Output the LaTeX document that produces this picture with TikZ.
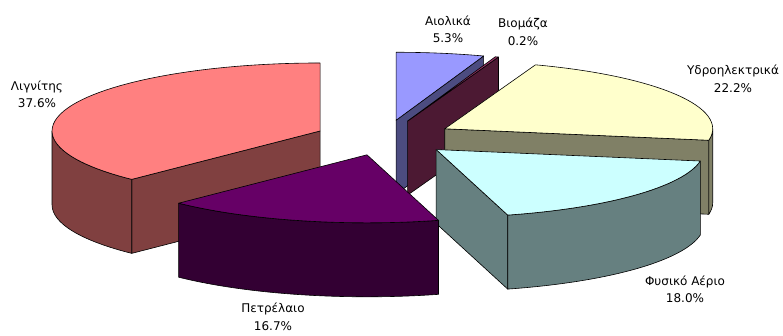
\documentclass[tikz,border=0pt]{standalone}
\usepackage{fontspec}
\setmainfont{DejaVu Sans}
\usetikzlibrary{calc}
\definecolor{ligTop}{HTML}{FF8080}
\definecolor{ligSide}{HTML}{804040}
\definecolor{petTop}{HTML}{660066}
\definecolor{petSide}{HTML}{330033}
\definecolor{gasTop}{HTML}{CCFFFF}
\definecolor{gasSide}{HTML}{668080}
\definecolor{hydTop}{HTML}{FFFFCC}
\definecolor{hydSide}{HTML}{808066}
\definecolor{winTop}{HTML}{9999FF}
\definecolor{winSide}{HTML}{4C4C80}
\definecolor{bioTop}{HTML}{993366}
\definecolor{bioSide}{HTML}{4C1933}
\def\pieA{268}
\def\pieB{68}
\def\pieH{74}
\def\pieE{0.26}
\newcommand\PieTop[4]{\filldraw[face,fill=#4] (#1) -- ++({\pieA*cos(#2)},{\pieB*sin(#2)}) arc[start angle=#2,end angle=#3,x radius=\pieA pt,y radius=\pieB pt] -- cycle;}
\newcommand\PieRim[4]{\filldraw[face,fill=#4] ($(#1)+({\pieA*cos(#2)},{\pieB*sin(#2)})$) arc[start angle=#2,end angle=#3,x radius=\pieA pt,y radius=\pieB pt] -- ++(0,-\pieH) arc[start angle=#3,end angle=#2,x radius=\pieA pt,y radius=\pieB pt] -- cycle;}
\newcommand\PieCut[3]{\filldraw[face,fill=#3] (#1) -- ++({\pieA*cos(#2)},{\pieB*sin(#2)}) -- ++(0,-\pieH) -- ($(#1)+(0,-\pieH)$) -- cycle;}
\tikzset{
  face/.style={draw=black, line width=0.6pt, line join=round},
  lbl/.style={align=center, inner sep=0pt, text=black, font=\fontsize{12}{17.5}\selectfont}
}
\begin{document}
\begin{tikzpicture}[x=1pt,y=1pt]
\fill[white] (0,0) rectangle (783,335);
\useasboundingbox (0,0) rectangle (783,335);
\coordinate (C) at (384.5,197.3);
\coordinate (L) at ($(C)+({\pieE*\pieA*cos(157.68)},{\pieE*\pieB*sin(157.68)})$);
\coordinate (P) at ($(C)+({\pieE*\pieA*cos(255.42)},{\pieE*\pieB*sin(255.42)})$);
\coordinate (G) at ($(C)+({\pieE*\pieA*cos(317.88)},{\pieE*\pieB*sin(317.88)})$);
\coordinate (H) at ($(C)+({\pieE*\pieA*cos(30.24)},{\pieE*\pieB*sin(30.24)})$);
\coordinate (B) at ($(C)+({\pieE*\pieA*cos(70.56)},{\pieE*\pieB*sin(70.56)})$);
\coordinate (W) at ($(C)+({\pieE*\pieA*cos(80.46)},{\pieE*\pieB*sin(80.46)})$);
% wind
\PieCut{W}{70.92}{winSide}
\PieTop{W}{70.92}{90}{winTop}
% biomass
\PieCut{B}{70.2}{bioSide}
\PieTop{B}{70.2}{70.92}{bioTop}
% hydro
\PieCut{H}{-9.72}{hydSide}
\PieRim{H}{-9.72}{0}{hydSide}
\PieTop{H}{-9.72}{70.2}{hydTop}
% lignite
\PieCut{L}{225.36}{ligSide}
\PieRim{L}{180}{225.36}{ligSide}
\PieTop{L}{90}{225.36}{ligTop}
% natural gas
\PieCut{G}{285.48}{gasSide}
\PieRim{G}{285.48}{350.28}{gasSide}
\PieTop{G}{285.48}{350.28}{gasTop}
% petroleum
\PieRim{P}{225.36}{285.48}{petSide}
\PieTop{P}{225.36}{285.48}{petTop}
% labels
\node[lbl] (tLig) at (37,240.5) {Λιγνίτης\\37.6\%};
\node[lbl] (tWin) at (448,305.5) {Αιολικά\\5.3\%};
\node[lbl] (tBio) at (523,303) {Βιομάζα\\0.2\%};
\node[lbl] (tHyd) at (733,256) {Υδροηλεκτρικά\\22.2\%};
\node[lbl] (tGas) at (685,45.5) {Φυσικό Αέριο\\18.0\%};
\node[lbl] (tPet) at (273,18) {Πετρέλαιο\\16.7\%};
\end{tikzpicture}
\end{document}
